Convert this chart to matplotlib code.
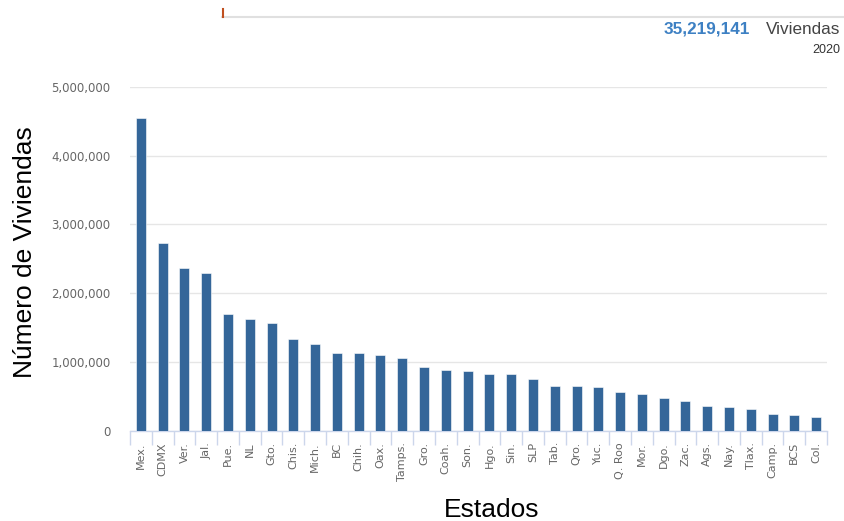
import matplotlib
matplotlib.use("Agg")
import matplotlib.pyplot as plt
from matplotlib.ticker import FuncFormatter, MultipleLocator
from matplotlib.lines import Line2D

estados = ["Mex.", "CDMX", "Ver.", "Jal.", "Pue.", "NL", "Gto.", "Chis.", "Mich.", "BC",
           "Chih.", "Oax.", "Tamps.", "Gro.", "Coah.", "Son.", "Hgo.", "Sin.", "SLP", "Tab.",
           "Qro.", "Yuc.", "Q. Roo", "Mor.", "Dgo.", "Zac.", "Ags.", "Nay.", "Tlax.", "Camp.",
           "BCS", "Col."]
viviendas = [4540000, 2730000, 2365000, 2300000, 1696000, 1633000, 1565000, 1333000, 1262000, 1138000,
             1134000, 1105000, 1056000, 925000, 882000, 865000, 833000, 833000, 751000, 659000,
             659000, 640000, 562000, 543000, 480000, 431000, 368000, 354000, 325000, 243000,
             228000, 208000]
total_text = "35,219,141"
unidad = "Viviendas"
anio = "2020"

W, H = 844, 521
fig = plt.figure(figsize=(W / 100, H / 100), dpi=100)
ax = fig.add_axes([130 / W, 1 - 431 / H, 697 / W, (431 - 86.7) / H])

x = list(range(len(estados)))
ax.bar(x, viviendas, width=0.46, color="#346699", edgecolor="#ffffff", linewidth=0.4, zorder=3)

ax.set_xlim(-0.5, len(estados) - 0.5)
ax.set_ylim(0, 5000000)
ax.yaxis.set_major_locator(MultipleLocator(1000000))
ax.yaxis.set_major_formatter(FuncFormatter(lambda v, p: f"{int(v):,}"))
ax.grid(axis="y", color="#e6e6e6", linewidth=1, zorder=0)
ax.set_axisbelow(True)
for s in ["top", "right", "left"]:
    ax.spines[s].set_visible(False)
ax.spines["bottom"].set_color("#ccd6eb")
ax.spines["bottom"].set_linewidth(1)

ax.tick_params(axis="y", length=0, pad=14, labelsize=8.5, labelcolor="#666666")
ax.set_xticks(x)
ax.set_xticklabels(estados, rotation=90, fontsize=8, color="#666666")
ax.set_xticks([i + 0.5 for i in range(-1, len(estados))], minor=True)
ax.tick_params(axis="x", which="major", length=0, pad=8)
ax.tick_params(axis="x", which="minor", length=10, color="#ccd6eb", width=1)

fig.text(25 / W, 1 - 252 / H, "Número de Viviendas", rotation=90, fontsize=19,
         family="Liberation Sans", ha="center", va="center", color="#000000")
fig.text(492 / W, 1 - 510 / H, "Estados", fontsize=19, family="Liberation Sans",
         ha="center", va="center", color="#000000")

# top decorations
fig.add_artist(Line2D([222 / W, 1.0], [1 - 16.7 / H, 1 - 16.7 / H], color="#e0e0e0", linewidth=1.5))
fig.add_artist(Line2D([222.5 / W, 222.5 / W], [1 - 9 / H, 1 - 17 / H], color="#c0501f", linewidth=1.5))

fig.text(750 / W, 1 - 29 / H, total_text, fontsize=12.3, fontweight="bold", family="Liberation Sans",
         color="#3d80c3", ha="right", va="center")
fig.text(840 / W, 1 - 29 / H, unidad, fontsize=12.3, family="Liberation Sans",
         color="#444444", ha="right", va="center")
fig.text(840 / W, 1 - 50 / H, anio, fontsize=9, family="Liberation Sans",
         color="#333333", ha="right", va="center")

fig.savefig("out.png", dpi=100)
